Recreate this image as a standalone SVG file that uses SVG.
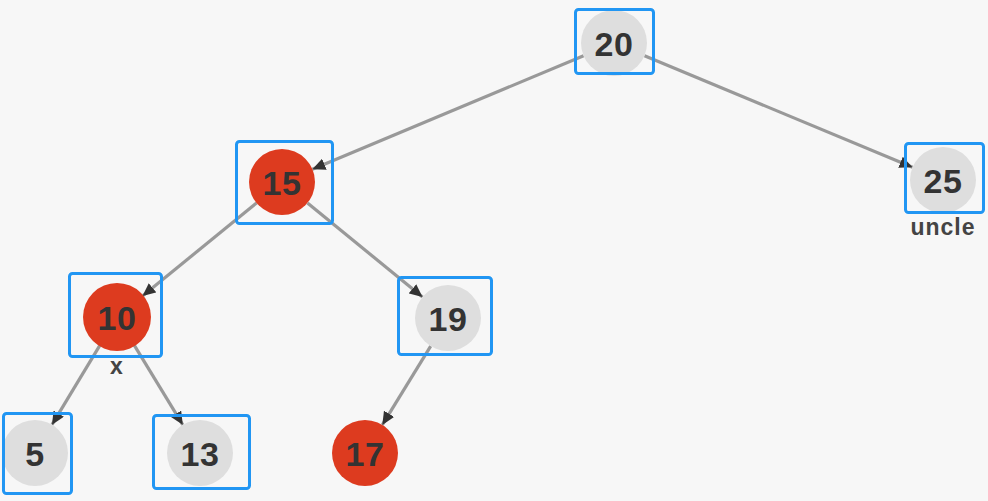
<svg xmlns="http://www.w3.org/2000/svg" width="988" height="501" viewBox="0 0 988 501">
<defs>
<marker id="arr" markerUnits="userSpaceOnUse" markerWidth="14" markerHeight="12" refX="13" refY="6" orient="auto">
<path d="M0,0 L13,6 L0,12 Z" fill="#333333"/>
</marker>
<style>
.edge{stroke:#999999;stroke-width:3.2;fill:none;marker-end:url(#arr)}
.red{fill:#dd3b1f}
.gray{fill:#dedede}
.box{fill:none;stroke:#2196f3;stroke-width:3}
.lbl{font-family:"Liberation Sans",Arial,sans-serif;font-weight:bold;font-size:34px;fill:#333333;text-anchor:middle;dominant-baseline:central;letter-spacing:0.5px}
.sub{font-family:"Liberation Sans",Arial,sans-serif;font-weight:bold;font-size:23px;fill:#444444;text-anchor:middle;letter-spacing:1px}
</style>
</defs>
<rect width="988" height="501" fill="#f7f7f7"/>
<g id="connectors">
<line class="edge" x1="583.6" y1="55.7" x2="312.4" y2="169.3"/>
<line class="edge" x1="644.5" y1="55.7" x2="912.5" y2="167.3"/>
<line class="edge" x1="256.5" y1="202.9" x2="142.5" y2="296.1"/>
<line class="edge" x1="307.5" y1="202.9" x2="422.5" y2="297.1"/>
<line class="edge" x1="100" y1="345.2" x2="52" y2="424.7"/>
<line class="edge" x1="134.2" y1="345.2" x2="182.8" y2="424.8"/>
<line class="edge" x1="430.7" y1="346.1" x2="382.3" y2="424.9"/>
</g>
<g id="n20">
<circle class="gray" cx="614" cy="43" r="33"/>
<text class="lbl" x="614" y="44">20</text>
<rect class="box" x="575.5" y="9.5" width="78" height="64" rx="3"/>
</g>
<g id="n15">
<circle class="red" cx="282" cy="182" r="33"/>
<text class="lbl" x="282" y="183">15</text>
<rect class="box" x="236.5" y="141.5" width="96" height="82" rx="3"/>
</g>
<g id="n25">
<circle class="gray" cx="943" cy="180" r="33"/>
<text class="lbl" x="943" y="181">25</text>
<rect class="box" x="905.5" y="143.5" width="78" height="69" rx="3"/>
<text class="sub" x="943" y="235">uncle</text>
</g>
<g id="n10">
<circle class="red" cx="117" cy="317" r="34"/>
<text class="lbl" x="117" y="318">10</text>
<rect class="box" x="69.5" y="273.5" width="92" height="83" rx="3"/>
<text class="sub" x="117" y="374">x</text>
</g>
<g id="n19">
<circle class="gray" cx="448" cy="318" r="33"/>
<text class="lbl" x="448" y="319">19</text>
<rect class="box" x="398.5" y="277.5" width="93" height="77" rx="3"/>
</g>
<g id="n5">
<circle class="gray" cx="35" cy="453" r="33"/>
<text class="lbl" x="35" y="454">5</text>
<rect class="box" x="3.5" y="413.5" width="68" height="80" rx="3"/>
</g>
<g id="n13">
<circle class="gray" cx="200" cy="453" r="33"/>
<text class="lbl" x="200" y="454">13</text>
<rect class="box" x="153.5" y="415.5" width="96" height="73" rx="3"/>
</g>
<g id="n17">
<circle class="red" cx="365" cy="453" r="33"/>
<text class="lbl" x="365" y="454">17</text>
</g>
</svg>
